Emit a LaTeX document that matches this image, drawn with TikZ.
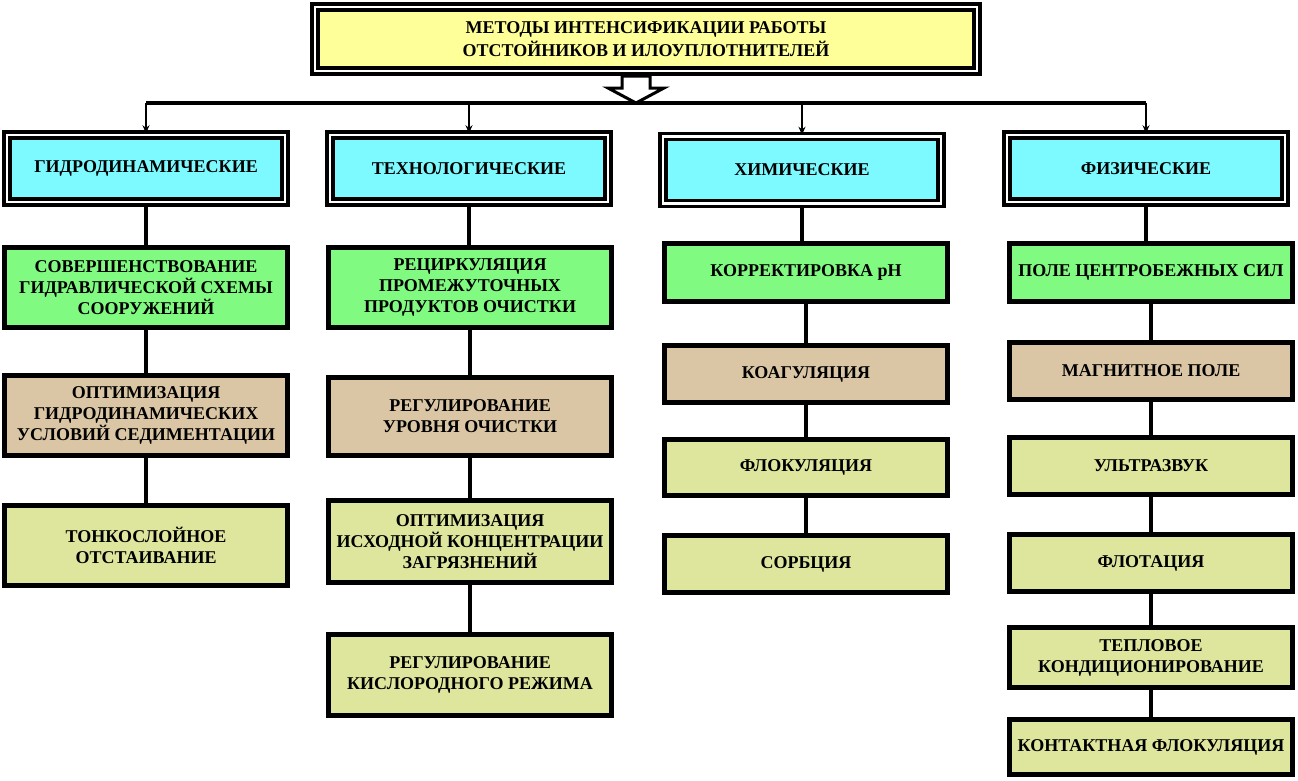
\documentclass[tikz,border=0pt]{standalone}
\usepackage{fontspec}
\setmainfont{Liberation Serif}
\usepackage{tikz}
\usetikzlibrary{arrows.meta,positioning,calc}

\definecolor{titleyellow}{RGB}{255,255,153}
\definecolor{headcyan}{RGB}{125,250,255}
\definecolor{boxgreen}{RGB}{128,250,128}
\definecolor{boxtan}{RGB}{218,198,164}
\definecolor{boxolive}{RGB}{222,230,158}

\begin{document}
\begin{tikzpicture}[x=1pt, y=-1pt,
        title/.style={rectangle, draw, double=white, line width=3.5pt, double distance=2.5pt, fill=titleyellow, minimum width=662pt, minimum height=64pt, inner sep=0pt, align=center, font=\bfseries\fontsize{18}{23}\selectfont},
        head/.style={rectangle, draw, double=white, line width=3.5pt, double distance=2.5pt, fill=headcyan, minimum width=278pt, minimum height=67pt, inner sep=0pt, align=center, font=\bfseries\fontsize{18}{21}\selectfont},
        item/.style={rectangle, draw, line width=5pt, minimum width=283pt, inner sep=0pt, align=center, font=\bfseries\fontsize{18}{21}\selectfont},
        link/.style={line width=4pt},
        bus/.style={line width=4pt},
        drop/.style={-{Stealth[length=8pt, width=7pt]}, line width=2pt},
        hollow/.style={draw, fill=white, line width=3pt, line join=miter},
    ]
        \useasboundingbox (0,0) rectangle (1298,780);

        % Title
        \node[title] (title) at (646,39) {МЕТОДЫ ИНТЕНСИФИКАЦИИ РАБОТЫ\\ОТСТОЙНИКОВ И ИЛОУПЛОТНИТЕЛЕЙ};

        % Headings
        \node[head] (hydro) at (146,168.5) {ГИДРОДИНАМИЧЕСКИЕ};
        \node[head] (techno) at (469,168.5) {ТЕХНОЛОГИЧЕСКИЕ};
        \node[head] (chem) at (802,170) {ХИМИЧЕСКИЕ};
        \node[head] (phys) at (1146,168.5) {ФИЗИЧЕСКИЕ};

        % Column 1
        \node[item, fill=boxgreen, minimum height=80pt] (hydroA) at (146,287.5) {СОВЕРШЕНСТВОВАНИЕ\\ГИДРАВЛИЧЕСКОЙ СХЕМЫ\\СООРУЖЕНИЙ};
        \node[item, fill=boxtan, minimum height=80pt] (hydroB) at (146,415.5) {ОПТИМИЗАЦИЯ\\ГИДРОДИНАМИЧЕСКИХ\\УСЛОВИЙ СЕДИМЕНТАЦИИ};
        \node[item, fill=boxolive, minimum height=80pt] (hydroC) at (146,545.5) {ТОНКОСЛОЙНОЕ\\ОТСТАИВАНИЕ};

        % Column 2
        \node[item, fill=boxgreen, minimum height=80pt] (technoA) at (470,287.5) {РЕЦИРКУЛЯЦИЯ\\ПРОМЕЖУТОЧНЫХ\\ПРОДУКТОВ ОЧИСТКИ};
        \node[item, fill=boxtan, minimum height=78pt] (technoB) at (470,416.5) {РЕГУЛИРОВАНИЕ\\УРОВНЯ ОЧИСТКИ};
        \node[item, fill=boxolive, minimum height=82pt] (technoC) at (470,541.5) {ОПТИМИЗАЦИЯ\\ИСХОДНОЙ КОНЦЕНТРАЦИИ\\ЗАГРЯЗНЕНИЙ};
        \node[item, fill=boxolive, minimum height=81pt] (technoD) at (470,675) {РЕГУЛИРОВАНИЕ\\КИСЛОРОДНОГО РЕЖИМА};

        % Column 3
        \node[item, fill=boxgreen, minimum height=58pt] (chemA) at (806,272.5) {КОРРЕКТИРОВКА pH};
        \node[item, fill=boxtan, minimum height=57pt] (chemB) at (806,374) {КОАГУЛЯЦИЯ};
        \node[item, fill=boxolive, minimum height=56pt] (chemC) at (806,467) {ФЛОКУЛЯЦИЯ};
        \node[item, fill=boxolive, minimum height=57pt] (chemD) at (806,564) {СОРБЦИЯ};

        % Column 4
        \node[item, fill=boxgreen, minimum height=58pt] (physA) at (1151,272.5) {ПОЛЕ ЦЕНТРОБЕЖНЫХ СИЛ};
        \node[item, fill=boxtan, minimum height=57pt] (physB) at (1151,371) {МАГНИТНОЕ ПОЛЕ};
        \node[item, fill=boxolive, minimum height=57pt] (physC) at (1151,466) {УЛЬТРАЗВУК};
        \node[item, fill=boxolive, minimum height=57pt] (physD) at (1151,563) {ФЛОТАЦИЯ};
        \node[item, fill=boxolive, minimum height=60pt] (physE) at (1151,657.5) {ТЕПЛОВОЕ\\КОНДИЦИОНИРОВАНИЕ};
        \node[item, fill=boxolive, minimum height=55pt] (physF) at (1151,747) {КОНТАКТНАЯ ФЛОКУЛЯЦИЯ};

        % Bus under the title
        \coordinate (tip) at (636,103);
        \draw[bus] (hydro.north |- tip) -- (phys.north |- tip);
        \draw[hollow] (tip) -- ++(-28,-15) -- ++(14,0) -- ++(0,-12) -- ++(28,0) -- ++(0,12) -- ++(14,0) -- cycle;

        % Drops to the headings
        \draw[drop] (hydro.north |- tip) -- (hydro.north);
        \draw[drop] (techno.north |- tip) -- (techno.north);
        \draw[drop] (chem.north |- tip) -- (chem.north);
        \draw[drop] (phys.north |- tip) -- (phys.north);

        % Column links
        \draw[link] (hydro) -- (hydroA) -- (hydroB) -- (hydroC);
        \draw[link] (techno) -- (techno |- technoA.north);
        \draw[link] (technoA) -- (technoB) -- (technoC) -- (technoD);
        \draw[link] (chem) -- (chem |- chemA.north);
        \draw[link] (chemA) -- (chemB) -- (chemC) -- (chemD);
        \draw[link] (phys) -- (phys |- physA.north);
        \draw[link] (physA) -- (physB) -- (physC) -- (physD) -- (physE) -- (physF);
    \end{tikzpicture}
\end{document}
